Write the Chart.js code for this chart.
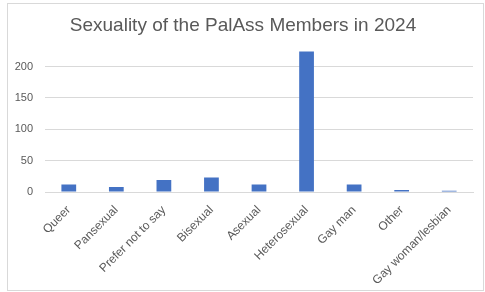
<!DOCTYPE html>
<html>
<head>
<meta charset="utf-8">
<script src="https://cdn.jsdelivr.net/npm/chart.js@4"></script>
<style>
  html, body { margin: 0; padding: 0; background: #fff; }
  #box {
    position: absolute; left: 7px; top: 3px;
    width: 475px; height: 286px;
    border: 1px solid #d9d9d9; background: #fff;
  }
  canvas { display: block; }
</style>
</head>
<body>
<div id="box"><canvas id="chart" width="475" height="286"></canvas></div>
<script>
const categories = ['Queer', 'Pansexual', 'Prefer not to say', 'Bisexual', 'Asexual',
                    'Heterosexual', 'Gay man', 'Other', 'Gay woman/lesbian'];
const members = [12, 8, 19, 23, 12, 224, 12, 3, 2];
const yTicks = [0, 50, 100, 150, 200];

const grey = '#595959';
const fontFamily = 'Liberation Sans, Arial, sans-serif';

new Chart(document.getElementById('chart').getContext('2d'), {
    type: 'bar',
    data: {
        labels: categories,
        datasets: [{
            label: 'Members',
            data: members,
            backgroundColor: '#4472c4',
            categoryPercentage: 1,
            barPercentage: 0.31
        }]
    },
    options: {
        responsive: false,
        animation: false,
        layout: { padding: { left: 5, right: 10, top: 0, bottom: 0 } },
        plugins: {
            legend: { display: false },
            tooltip: { enabled: false },
            title: {
                display: true,
                text: 'Sexuality of the PalAss Members in 2024',
                color: grey,
                font: { family: fontFamily, size: 19, weight: 'normal' },
                padding: { top: 10, bottom: 11 }
            }
        },
        scales: {
            x: {
                grid: { display: false },
                border: { color: '#d9d9d9' },
                afterFit: (axis) => {
                    // let the rotated labels hang past the plot edge like Excel does
                    axis.paddingLeft = 0;
                    axis.paddingRight = 0;
                    axis.height = 98;
                },
                ticks: {
                    color: grey,
                    minRotation: 45, maxRotation: 45,
                    font: { family: fontFamily, size: 12 }
                }
            },
            y: {
                min: 0, max: 230,
                afterBuildTicks: (axis) => { axis.ticks = yTicks.map(v => ({ value: v })); },
                afterFit: (axis) => { axis.width = 32; },
                grid: { color: '#d9d9d9', drawTicks: false },
                border: { display: false },
                ticks: {
                    color: grey, padding: 12,
                    font: { family: fontFamily, size: 11 }
                }
            }
        }
    }
});
</script>
</body>
</html>
